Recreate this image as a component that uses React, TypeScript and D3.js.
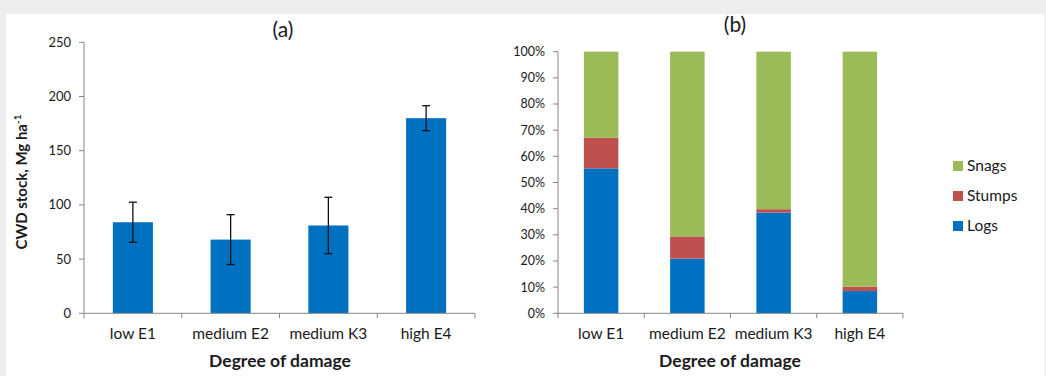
import React from "react";
import * as d3 from "d3";

// Damage categories shared by both panels
const categories = ["low E1", "medium E2", "medium K3", "high E4"];

// Panel (a): CWD stock (Mg ha-1) with error bar half-widths
const stockMeans = [84, 68, 81, 180];
const stockErrors = [18.5, 23, 26, 11.5];
const stockTicks = [0, 50, 100, 150, 200, 250];

// Panel (b): share of CWD components (%)
const logsShare = [55.4, 20.9, 38.5, 8.5];
const stumpsShare = [11.7, 8.5, 1.3, 1.7];
const snagsShare = [32.9, 70.6, 60.2, 89.8];
const shareTicks = [0, 10, 20, 30, 40, 50, 60, 70, 80, 90, 100];

const seriesNames = ["Logs", "Stumps", "Snags"];
const seriesColors = ["#0070c0", "#c0504d", "#9bbb59"];

const FONT = "Lato, 'Open Sans', sans-serif";
const AXIS = "#868686";
const INK = "#1a1a1a";

const W = 1046;
const H = 376;

function PanelA() {
  const x = d3.scaleBand<string>().domain(categories).range([84, 475]).paddingInner(0.59).paddingOuter(0.295);
  const y = d3.scaleLinear().domain([0, 250]).range([313.3, 42.3]);
  const band = d3.scaleBand<string>().domain(categories).range([84, 475]);
  const y0 = y(0);
  return (
    <g>
      <text x={283} y={37} textAnchor="middle" fontSize={21} fontFamily={FONT} fill={INK}>(a)</text>
      {categories.map((c, i) => {
        const bx = x(c)!;
        const bw = x.bandwidth();
        const cx = bx + bw / 2;
        const hi = y(stockMeans[i] + stockErrors[i]);
        const lo = y(stockMeans[i] - stockErrors[i]);
        return (
          <g key={c}>
            <rect x={bx} y={y(stockMeans[i])} width={bw} height={y0 - y(stockMeans[i])} fill={seriesColors[0]} />
            <line x1={cx} x2={cx} y1={hi} y2={lo} stroke="#111" strokeWidth={1.3} />
            <line x1={cx - 4} x2={cx + 4} y1={hi} y2={hi} stroke="#111" strokeWidth={1.3} />
            <line x1={cx - 4} x2={cx + 4} y1={lo} y2={lo} stroke="#111" strokeWidth={1.3} />
          </g>
        );
      })}
      {/* y axis */}
      <line x1={84} x2={84} y1={y(250)} y2={y0} stroke={AXIS} strokeWidth={1} />
      {stockTicks.map((t) => (
        <g key={t}>
          <line x1={79} x2={84} y1={y(t)} y2={y(t)} stroke={AXIS} />
          <text x={71} y={y(t)} dy="0.35em" textAnchor="end" fontSize={13} fontFamily={FONT} fill={INK}>{t}</text>
        </g>
      ))}
      {/* x axis */}
      <line x1={84} x2={475} y1={y0} y2={y0} stroke={AXIS} strokeWidth={1} />
      {[...categories.map((c) => band(c)!), 475].map((px, i) => (
        <line key={i} x1={px} x2={px} y1={y0} y2={y0 + 5} stroke={AXIS} />
      ))}
      {categories.map((c) => (
        <text key={c} x={band(c)! + band.bandwidth() / 2} y={339} textAnchor="middle" fontSize={15.5} fontFamily={FONT} fill={INK}>{c}</text>
      ))}
      <text x={280} y={367} textAnchor="middle" fontSize={17.5} fontWeight="bold" fontFamily={FONT} fill={INK}>Degree of damage</text>
      <text transform="translate(27,182) rotate(-90)" textAnchor="middle" fontSize={15} fontWeight="bold" fontFamily={FONT} fill={INK}>
        CWD stock, Mg ha<tspan dy={-6} fontSize={10}>-1</tspan>
      </text>
    </g>
  );
}

function PanelB() {
  const x = d3.scaleBand<string>().domain(categories).range([558, 903]).paddingInner(0.6).paddingOuter(0.3);
  const band = d3.scaleBand<string>().domain(categories).range([558, 903]);
  const y = d3.scaleLinear().domain([0, 100]).range([313.3, 51.7]);
  const y0 = y(0);
  const rows = categories.map((c, i) => ({ cat: c, Logs: logsShare[i], Stumps: stumpsShare[i], Snags: snagsShare[i] }));
  const stacked = d3.stack<any>().keys(seriesNames)(rows);
  return (
    <g>
      <text x={735} y={32} textAnchor="middle" fontSize={21} fontFamily={FONT} fill={INK}>(b)</text>
      {stacked.map((s, si) => (
        <g key={s.key} fill={seriesColors[si]}>
          {s.map((d, i) => (
            <rect key={i} x={x(categories[i])} y={y(Math.min(d[1], 100))} width={x.bandwidth()} height={y(d[0]) - y(Math.min(d[1], 100))} />
          ))}
        </g>
      ))}
      <line x1={558} x2={558} y1={y(100)} y2={y0} stroke={AXIS} />
      {shareTicks.map((t) => (
        <g key={t}>
          <line x1={553} x2={558} y1={y(t)} y2={y(t)} stroke={AXIS} />
          <text x={545} y={y(t)} dy="0.35em" textAnchor="end" fontSize={12.5} fontFamily={FONT} fill={INK}>{t}%</text>
        </g>
      ))}
      <line x1={558} x2={903} y1={y0} y2={y0} stroke={AXIS} />
      {[...categories.map((c) => band(c)!), 903].map((px, i) => (
        <line key={i} x1={px} x2={px} y1={y0} y2={y0 + 5} stroke={AXIS} />
      ))}
      {categories.map((c) => (
        <text key={c} x={band(c)! + band.bandwidth() / 2} y={339} textAnchor="middle" fontSize={15.5} fontFamily={FONT} fill={INK}>{c}</text>
      ))}
      <text x={730} y={367} textAnchor="middle" fontSize={17.5} fontWeight="bold" fontFamily={FONT} fill={INK}>Degree of damage</text>
      {/* legend, top entry is the top of the stack */}
      {[2, 1, 0].map((si, row) => (
        <g key={si} transform={`translate(953,${166 + row * 30})`}>
          <rect x={0} y={-5} width={10} height={10} fill={seriesColors[si]} />
          <text x={14} y={0} dy="0.35em" fontSize={15.5} fontFamily={FONT} fill={INK}>{seriesNames[si]}</text>
        </g>
      ))}
    </g>
  );
}

export default function App() {
  return (
    <svg width={W} height={H} style={{ position: "absolute", left: 0, top: 0, display: "block" }}>
      <rect x={0} y={0} width={W} height={H} fill="#eeeeee" />
      <rect x={6} y={14} width={1038.5} height={H - 14} fill="#ffffff" />
      <PanelA />
      <PanelB />
    </svg>
  );
}
